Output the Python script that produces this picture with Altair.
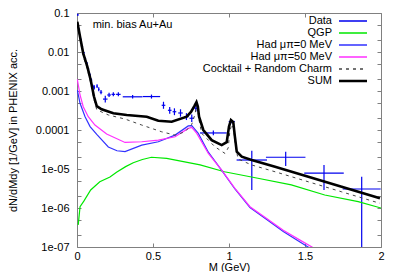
import altair as alt
import pandas as pd

FONT = "Liberation Sans"

series_names = ["Data", "QGP", "Had μπ=0 MeV", "Had μπ=50 MeV",
                "Cocktail + Random Charm", "SUM"]
series_colors = ["#0000ee", "#00e800", "#3232ff", "#ff30ff", "#444444", "#000000"]

x_ticks = [0, 0.5, 1, 1.5, 2]
y_ticks = [1e-7, 2e-7, 5e-7, 1e-6, 2e-6, 5e-6, 1e-5, 2e-5, 5e-5, 1e-4, 2e-4,
           5e-4, 1e-3, 2e-3, 5e-3, 1e-2, 2e-2, 5e-2, 0.1]

# ---- data points (PHENIX) ----
data_m = [0.005, 0.015, 0.025, 0.035, 0.045, 0.055, 0.065, 0.075, 0.085, 0.095,
          0.105, 0.114, 0.132, 0.143, 0.158, 0.186, 0.211, 0.239, 0.272, 0.366,
          0.49, 0.569, 0.61, 0.641, 0.681, 0.72, 0.755, 0.782, 0.897, 1.018,
          1.15, 1.373, 1.625, 1.873]
data_v = [0.09, 0.038, 0.021, 0.014, 0.0095, 0.0068, 0.0052, 0.0037, 0.0026, 0.0019,
          0.0013, 1.24e-3, 1.34e-3, 1.1e-3, 9.3e-4, 6.2e-4, 7.9e-4, 8.2e-4, 8.2e-4, 7.1e-4,
          7.2e-4, 4.3e-4, 3.2e-4, 2.94e-4, 2.73e-4, 2.2e-4, 2.0e-4, 3.6e-4, 8.4e-5, 1.65e-4,
          1.7e-5, 2.0e-5, 7.8e-6, 3.07e-6]
data_xerr = [0.005, 0.005, 0.005, 0.005, 0.005, 0.005, 0.005, 0.005, 0.005, 0.005,
             0.005, 0.005, 0.005, 0.005, 0.008, 0.015, 0.012, 0.012, 0.015, 0.065,
             0.057, 0.012, 0.012, 0.012, 0.015, 0.015, 0.015, 0.01, 0.088, 0.02,
             0.1, 0.13, 0.13, 0.125]
data_ylo = [0.085, 0.036, 0.02, 0.0133, 0.009, 0.0064, 0.0049, 0.0035, 0.0024, 0.0017,
            0.00115, 1.1e-3, 1.2e-3, 0.98e-3, 8.2e-4, 5.1e-4, 7.0e-4, 7.3e-4, 7.3e-4, 6.4e-4,
            6.4e-4, 3.5e-4, 2.6e-4, 2.4e-4, 2.2e-4, 1.8e-4, 1.6e-4, 3.0e-4, 7.3e-5, 1.5e-4,
            2.9e-6, 1.19e-5, 2.9e-6, 1e-8]
data_yhi = [0.095, 0.04, 0.022, 0.0147, 0.01, 0.0072, 0.0055, 0.0039, 0.0028, 0.0021,
            0.00145, 1.4e-3, 1.5e-3, 1.24e-3, 1.06e-3, 7.5e-4, 9.0e-4, 9.3e-4, 9.3e-4, 7.9e-4,
            8.1e-4, 5.3e-4, 3.9e-4, 3.6e-4, 3.4e-4, 2.7e-4, 2.5e-4, 4.3e-4, 9.7e-5, 1.8e-4,
            2.94e-5, 2.78e-5, 1.27e-5, 6.35e-6]

# ---- model curves ----
qgp_m = [0.008, 0.02, 0.045, 0.09, 0.15, 0.217, 0.26, 0.32, 0.37, 0.43, 0.49,
         0.59, 0.7, 0.81, 0.97, 1.19, 1.41, 1.63, 1.85, 2.0]
qgp_v = [3.7e-7, 1.08e-6, 1.5e-6, 2.9e-6, 4.7e-6, 6.2e-6, 8.3e-6, 1.15e-5, 1.45e-5,
         1.75e-5, 2.0e-5, 1.88e-5, 1.54e-5, 1.27e-5, 8.5e-6, 5.8e-6, 3.9e-6, 2.15e-6,
         1.45e-6, 1.0e-6]

had0_m = [0.002, 0.02, 0.053, 0.086, 0.13, 0.206, 0.263, 0.316, 0.426, 0.535, 0.645,
          0.732, 0.755, 0.798, 0.864, 0.952, 1.039, 1.138, 1.248, 1.357, 1.467, 1.52, 1.58]
had0_v = [1.06e-3, 4.84e-4, 2.19e-4, 1.22e-4, 7.7e-5, 3.66e-5, 2.94e-5, 2.8e-5, 4.1e-5,
          5.0e-5, 7.4e-5, 1.27e-4, 1.29e-4, 8.2e-5, 2.7e-5, 9.2e-6, 3.07e-6, 1.03e-6,
          5.1e-7, 2.5e-7, 1.34e-7, 1.0e-7, 7e-8]

had50_m = [0.002, 0.02, 0.041, 0.074, 0.118, 0.195, 0.316, 0.426, 0.535, 0.645, 0.732,
           0.755, 0.788, 0.864, 0.952, 1.039, 1.138, 1.248, 1.357, 1.467, 1.546, 1.6]
had50_v = [2.0e-3, 7.9e-4, 3.95e-4, 2.19e-4, 1.34e-4, 7.9e-5, 4.8e-5, 5.0e-5, 5.5e-5,
           6.7e-5, 1.1e-4, 1.17e-4, 8.2e-5, 2.5e-5, 9.4e-6, 3.2e-6, 1.08e-6, 5.4e-7,
           2.7e-7, 1.5e-7, 1.0e-7, 7e-8]

cock_m = [0.002, 0.02, 0.041, 0.068, 0.09, 0.112, 0.13, 0.206, 0.316, 0.426, 0.557,
          0.645, 0.711, 0.755, 0.776, 0.786, 0.795, 0.803, 0.82, 0.908, 0.974, 0.995,
          1.005, 1.018, 1.03, 1.042, 1.06, 1.149, 1.303, 1.522, 1.741, 1.993]
cock_v = [0.05, 0.021, 0.0079, 0.0036, 0.00163, 6.0e-4, 3.3e-4, 2.43e-4, 1.91e-4,
          1.34e-4, 9.0e-5, 7.4e-5, 9.0e-5, 1.4e-4, 2.5e-4, 4.2e-4, 3.2e-4, 1.8e-4,
          8.2e-5, 3.7e-5, 2.5e-5, 3.5e-5, 9e-5, 1.4e-4, 1.1e-4, 4e-5, 1.8e-5, 1.27e-5,
          8.5e-6, 4.7e-6, 2.6e-6, 1.32e-6]

sum_m = [0.002, 0.02, 0.041, 0.068, 0.09, 0.112, 0.13, 0.162, 0.239, 0.327, 0.459,
         0.535, 0.623, 0.722, 0.75, 0.772, 0.786, 0.795, 0.803, 0.831, 0.886, 0.952,
         0.985, 1.0, 1.013, 1.028, 1.039, 1.051, 1.084, 1.149, 1.303, 1.522, 1.741, 1.993]
sum_v = [0.060, 0.0247, 0.00925, 0.0042, 0.00191, 7.1e-4, 4.1e-4, 3.4e-4, 2.68e-4,
         2.43e-4, 2.19e-4, 1.73e-4, 1.63e-4, 2.19e-4, 2.9e-4, 4.1e-4, 5.2e-4, 4.0e-4,
         2.19e-4, 1.0e-4, 5.5e-5, 4.1e-5, 4.9e-5, 1.22e-4, 1.8e-4, 1.6e-4, 6.7e-5,
         2.8e-5, 2.07e-5, 1.7e-5, 1.15e-5, 6.35e-6, 3.5e-6, 1.77e-6]

annotation = "min. bias Au+Au"
ann_m, ann_v = 0.103, 0.049

# ---- tables ----
df_data = pd.DataFrame({
    "M": data_m, "val": data_v,
    "xlo": [m - e for m, e in zip(data_m, data_xerr)],
    "xhi": [m + e for m, e in zip(data_m, data_xerr)],
    "ylo": data_ylo, "yhi": data_yhi, "series": "Data",
})

def curve(ms, vs, name):
    return pd.DataFrame({"M": ms, "val": vs, "series": name, "i": range(len(ms))})

df_thin = pd.concat([curve(qgp_m, qgp_v, series_names[1]),
                     curve(had0_m, had0_v, series_names[2]),
                     curve(had50_m, had50_v, series_names[3])])
df_cock = curve(cock_m, cock_v, series_names[4])
df_sum = curve(sum_m, sum_v, series_names[5])

x_scale = alt.Scale(domain=[0, 2], nice=False, zero=False)
y_scale = alt.Scale(type="log", domain=[1e-7, 0.1], nice=False)

GRAY = "#808080"

legend = alt.Legend(
    title=None, orient="none", legendX=270.5, legendY=2.5,
    symbolType="M-4,0H4", symbolSize=49, rowPadding=0,
    labelAlign="right", labelOffset=alt.ExprRef(expr="-26.5"),
    labelFont=FONT, labelFontSize=11,
    labelColor="#000", labelLimit=300, padding=0,
    symbolStrokeWidth=alt.ExprRef(expr="datum.value == 'SUM' ? 2.6 : 1.3"),
    symbolDash=alt.ExprRef(expr="datum.value == 'Cocktail + Random Charm' ? [3, 4] : [1, 0]"),
)
color = alt.Color("series:N", scale=alt.Scale(domain=series_names, range=series_colors),
                  legend=legend)

label_expr = ("abs(log(datum.value)/LN10 - round(log(datum.value)/LN10)) > 0.01 ? '' : "
              "(round(log(datum.value)/LN10) >= -4 ? format(datum.value, '~g') : "
              "'1e-0' + toString(-round(log(datum.value)/LN10)))")

common_axis = dict(offset=-4, tickSize=4, domain=False, grid=False, tickColor=GRAY,
                   labelFont=FONT, labelFontSize=11, labelColor="#000",
                   labelFlush=False, labelOverlap=False, titleFont=FONT,
                   titleFontSize=11, titleFontWeight="normal", titleColor="#000")

x_axis_bottom = alt.Axis(orient="bottom", values=x_ticks, format="~g", labelPadding=3,
                         title="M (GeV)", titleBaseline="bottom", titleY=29, **common_axis)
x_axis_top = alt.Axis(orient="top", values=x_ticks, labels=False, title=None, **common_axis)
y_axis_left = alt.Axis(orient="left", values=y_ticks, labelExpr=label_expr, labelPadding=8,
                       title="dN/dMdy [1/GeV] in PHENIX acc.", titleBaseline="middle",
                       titleX=-67.5, **common_axis)
y_axis_right = alt.Axis(orient="right", values=y_ticks, labels=False, title=None, **common_axis)

h_bars = alt.Chart(df_data).mark_rule(clip=True, strokeWidth=1.2).encode(
    x=alt.X("xlo:Q", scale=x_scale, axis=x_axis_bottom),
    x2="xhi:Q",
    y=alt.Y("val:Q", scale=y_scale, axis=y_axis_left),
    color=color,
)
v_bars = alt.Chart(df_data).mark_rule(clip=True, strokeWidth=1.2).encode(
    x=alt.X("M:Q", scale=x_scale, axis=x_axis_top),
    y=alt.Y("ylo:Q", scale=y_scale, axis=y_axis_right),
    y2="yhi:Q",
    color=color,
)

def line_layer(df, **mk):
    return alt.Chart(df).mark_line(clip=True, **mk).encode(
        x=alt.X("M:Q", scale=x_scale, axis=None),
        y=alt.Y("val:Q", scale=y_scale, axis=None),
        color=color,
        detail="series:N",
        order="i:Q",
    )

thin = line_layer(df_thin, strokeWidth=1.2)
cock = line_layer(df_cock, strokeWidth=1.0, strokeDash=[3, 4])
sumc = line_layer(df_sum, strokeWidth=2.6)

text = alt.Chart(pd.DataFrame({"t": [annotation]})).mark_text(
    align="left", baseline="middle", font=FONT, fontSize=11, color="#000"
).encode(
    x=alt.X(datum=ann_m, scale=x_scale, axis=None),
    y=alt.Y(datum=ann_v, scale=y_scale, axis=None),
    text="t:N",
)

chart = alt.layer(h_bars, v_bars, thin, cock, sumc, text).resolve_axis(
    x="independent", y="independent"
).properties(
    width=304, height=234,
    autosize=alt.AutoSizeParams(type="none"),
    padding={"left": 69, "top": 5, "right": 11, "bottom": 25},
).configure_view(stroke=GRAY, strokeWidth=1)

chart.save("out.html", embed_options={"renderer": "svg", "actions": False})
